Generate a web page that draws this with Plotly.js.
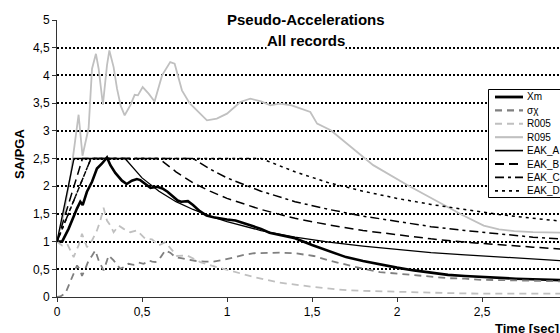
<!DOCTYPE html>
<html>
<head>
<meta charset="utf-8">
<script src="https://cdn.plot.ly/plotly-3.0.1.min.js"></script>
<style>
html, body { margin:0; padding:0; overflow:hidden; background:#fff; }
#chart { width:620px; height:333px; }
</style>
</head>
<body>
<div id="chart"></div>
<script>
// ---- data ----
const xm_x = [0, 0.03, 0.068, 0.098, 0.118, 0.137, 0.151, 0.176, 0.206, 0.235, 0.265, 0.294, 0.314, 0.343, 0.382, 0.41, 0.44, 0.47, 0.49, 0.52, 0.55, 0.59, 0.62, 0.65, 0.68, 0.71, 0.73, 0.77, 0.8, 0.84, 0.88, 0.92, 1.0, 1.05, 1.1, 1.14, 1.2, 1.25, 1.31, 1.4, 1.5, 1.6, 1.7, 1.8, 1.9, 2.0, 2.1, 2.2, 2.3, 2.4, 2.5, 2.6, 2.7, 2.8, 2.9, 3.0];
const xm_y = [1, 1.0, 1.23, 1.47, 1.60, 1.72, 1.66, 1.90, 2.08, 2.32, 2.41, 2.52, 2.38, 2.24, 2.1, 2.04, 2.1, 2.13, 2.11, 2.04, 1.97, 1.99, 1.96, 1.9, 1.82, 1.74, 1.72, 1.73, 1.66, 1.55, 1.47, 1.44, 1.40, 1.38, 1.33, 1.29, 1.23, 1.16, 1.12, 1.06, 0.94, 0.83, 0.72, 0.65, 0.585, 0.53, 0.48, 0.44, 0.40, 0.38, 0.36, 0.35, 0.33, 0.32, 0.31, 0.30];

const sx_x = [0, 0.02, 0.05, 0.08, 0.1, 0.118, 0.135, 0.147, 0.165, 0.186, 0.205, 0.225, 0.245, 0.274, 0.29, 0.304, 0.333, 0.372, 0.40, 0.42, 0.45, 0.48, 0.51, 0.54, 0.56, 0.58, 0.61, 0.637, 0.666, 0.696, 0.73, 0.78, 0.82, 0.87, 0.92, 0.98, 1.04, 1.1, 1.16, 1.235, 1.31, 1.4, 1.51, 1.6, 1.71, 1.8, 1.9, 2.0, 2.1, 2.2, 2.3, 2.4, 2.5, 2.7, 2.9, 3.0];
const sx_y = [0, 0.01, 0.07, 0.3, 0.45, 0.57, 0.5, 0.38, 0.5, 0.66, 0.74, 0.84, 0.66, 0.48, 0.62, 0.75, 0.66, 0.51, 0.55, 0.6, 0.58, 0.62, 0.6, 0.66, 0.64, 0.63, 0.72, 0.84, 0.8, 0.72, 0.7, 0.67, 0.65, 0.64, 0.64, 0.67, 0.72, 0.76, 0.79, 0.80, 0.80, 0.79, 0.74, 0.66, 0.57, 0.51, 0.45, 0.42, 0.39, 0.36, 0.34, 0.33, 0.31, 0.30, 0.29, 0.28];

const r005_x = [0, 0.03, 0.06, 0.08, 0.098, 0.115, 0.127, 0.147, 0.162, 0.176, 0.206, 0.235, 0.255, 0.274, 0.294, 0.314, 0.333, 0.363, 0.392, 0.431, 0.47, 0.5, 0.52, 0.559, 0.598, 0.637, 0.676, 0.706, 0.765, 0.843, 0.94, 1.04, 1.16, 1.31, 1.51, 1.71, 1.9, 2.1, 2.3, 2.5, 2.7, 3.0];
const r005_y = [1, 0.93, 0.96, 0.84, 0.72, 0.85, 0.93, 1.14, 1.0, 0.9, 1.02, 1.2, 1.38, 1.61, 1.38, 1.29, 1.17, 1.29, 1.23, 1.17, 1.2, 1.12, 1.05, 1.04, 0.93, 0.99, 0.84, 0.74, 0.75, 0.63, 0.54, 0.46, 0.36, 0.26, 0.18, 0.12, 0.10, 0.09, 0.07, 0.06, 0.06, 0.06];

const r095_x = [0, 0.04, 0.08, 0.105, 0.127, 0.15, 0.17, 0.186, 0.206, 0.229, 0.245, 0.27, 0.294, 0.308, 0.333, 0.353, 0.375, 0.398, 0.431, 0.457, 0.476, 0.504, 0.539, 0.574, 0.618, 0.666, 0.692, 0.735, 0.78, 0.824, 0.882, 0.94, 1.0, 1.078, 1.137, 1.2, 1.255, 1.31, 1.38, 1.49, 1.53, 1.61, 1.765, 1.86, 2.06, 2.25, 2.39, 2.51, 2.6, 2.69, 2.8, 3.0];
const r095_y = [1, 1.5, 2.2, 2.8, 3.29, 2.55, 2.86, 3.05, 4.12, 4.39, 4.12, 3.47, 4.18, 4.45, 4.15, 3.76, 3.45, 3.28, 3.46, 3.65, 3.64, 3.79, 3.67, 3.53, 4.0, 4.24, 4.21, 3.73, 3.5, 3.37, 3.19, 3.22, 3.31, 3.52, 3.58, 3.53, 3.46, 3.49, 3.46, 3.34, 3.13, 3.01, 2.62, 2.38, 2.02, 1.71, 1.47, 1.29, 1.22, 1.19, 1.17, 1.16];

const eakA_x = [0, 0.1, 0.4, 0.5, 0.6, 0.7, 0.8, 0.9, 1.0, 1.2, 1.4, 1.6, 1.8, 2.0, 2.2, 2.4, 2.6, 2.8, 3.0];
const eakA_y = [1, 2.5, 2.5, 2.15, 1.91, 1.72, 1.58, 1.46, 1.36, 1.20, 1.08, 0.99, 0.92, 0.86, 0.80, 0.76, 0.72, 0.68, 0.65];
const eakB_x = [0, 0.15, 0.6, 0.7, 0.8, 0.9, 1.0, 1.2, 1.4, 1.6, 1.8, 2.0, 2.2, 2.4, 2.6, 2.8, 3.0];
const eakB_y = [1, 2.5, 2.5, 2.26, 2.06, 1.91, 1.78, 1.58, 1.42, 1.30, 1.20, 1.12, 1.05, 0.99, 0.94, 0.90, 0.86];
const eakC_x = [0, 0.2, 0.8, 0.9, 1.0, 1.2, 1.4, 1.6, 1.8, 2.0, 2.2, 2.4, 2.6, 2.8, 3.0];
const eakC_y = [1, 2.5, 2.5, 2.31, 2.15, 1.91, 1.72, 1.58, 1.46, 1.36, 1.27, 1.20, 1.14, 1.08, 1.04];
const eakD_x = [0, 0.2, 1.2, 1.4, 1.6, 1.8, 2.0, 2.2, 2.4, 2.6, 2.8, 3.0];
const eakD_y = [1, 2.5, 2.5, 2.26, 2.06, 1.91, 1.78, 1.67, 1.58, 1.49, 1.42, 1.36];

const names = ['Xm', 'σχ', 'R005', 'R095', 'EAK_A', 'EAK_B', 'EAK_C', 'EAK_D'];
const xTicks = [0, 0.5, 1, 1.5, 2, 2.5, 3];
const yTicks = [0, 0.5, 1, 1.5, 2, 2.5, 3, 3.5, 4, 4.5, 5];
const titleLines = ['Pseudo-Accelerations', 'All records'];

// ---- styling ----
const F = '"Liberation Sans", Arial, sans-serif';
const styles = [
  { color: '#000000', width: 2.6, dash: 'solid' },
  { color: '#808080', width: 1.8, dash: '7px,5px' },
  { color: '#c0c0c0', width: 1.8, dash: '7px,5px' },
  { color: '#c0c0c0', width: 1.8, dash: 'solid' },
  { color: '#000000', width: 1.3, dash: 'solid' },
  { color: '#000000', width: 1.5, dash: '9px,5px' },
  { color: '#000000', width: 1.5, dash: '9px,4px,3px,4px' },
  { color: '#000000', width: 1.5, dash: '3px,4px' }
];
const series = [[xm_x, xm_y], [sx_x, sx_y], [r005_x, r005_y], [r095_x, r095_y],
                [eakA_x, eakA_y], [eakB_x, eakB_y], [eakC_x, eakC_y], [eakD_x, eakD_y]];
const traces = series.map((s, i) => ({
  type: 'scatter', mode: 'lines', x: s[0], y: s[1], name: names[i],
  line: styles[i], showlegend: false
}));

// plot area geometry (px) used to place the hand-made legend box
const W = 620, H = 333, ML = 57, MR = 53, MT = 20, MB = 36;
const PW = W - ML - MR, PH = H - MT - MB;
const px2x = p => (p - ML) / PW;
const px2y = p => (H - MB - p) / PH;

const shapes = [];
const annotations = [];
// legend frame
shapes.push({ type: 'rect', xref: 'paper', yref: 'paper',
  x0: px2x(488.5), x1: px2x(600), y0: px2y(197.5), y1: px2y(89.5),
  fillcolor: '#ffffff', line: { color: '#000000', width: 1 }, layer: 'above' });
names.forEach((n, i) => {
  const yy = 97 + i * 13.4;
  shapes.push({ type: 'line', xref: 'paper', yref: 'paper',
    x0: px2x(495), x1: px2x(523), y0: px2y(yy), y1: px2y(yy),
    line: { color: styles[i].color, width: Math.min(styles[i].width + 0.3, 2.8), dash: styles[i].dash },
    layer: 'above' });
  annotations.push({ xref: 'paper', yref: 'paper', x: px2x(524.5), y: px2y(yy),
    xanchor: 'left', yanchor: 'middle', text: n, showarrow: false,
    font: { family: F, size: 10, color: '#000' } });
});
// title (two lines, each with white backing like the original)
titleLines.forEach((t, i) => {
  annotations.push({ xref: 'paper', yref: 'paper', x: px2x(306), y: px2y(19.5 + i * 20.5),
    xanchor: 'center', yanchor: 'middle', text: '<b>' + t + '</b>', showarrow: false,
    bgcolor: '#ffffff', borderpad: 0,
    font: { family: F, size: 15, color: '#000' } });
});
annotations.push({ xref: 'paper', yref: 'paper', x: px2x(19), y: px2y(154),
  xanchor: 'center', yanchor: 'middle', text: '<b>SA/PGA</b>', textangle: -90, showarrow: false,
  font: { family: F, size: 13, color: '#000' } });
annotations.push({ xref: 'paper', yref: 'paper', x: px2x(493), y: px2y(328),
  xanchor: 'left', yanchor: 'middle', text: '<b>Time [sec]</b>', showarrow: false,
  font: { family: F, size: 13, color: '#000' } });

const layout = {
  width: W, height: H,
  margin: { l: ML, r: MR, t: MT, b: MB },
  paper_bgcolor: '#ffffff', plot_bgcolor: '#ffffff',
  separators: ', ',
  font: { family: F, color: '#000' },
  showlegend: false,
  xaxis: {
    range: [0, 3], tickvals: xTicks, ticks: 'outside', ticklen: 4, tickcolor: '#333',
    showgrid: false, zeroline: false, showline: true, linecolor: '#333', linewidth: 1,
    tickfont: { family: F, size: 12, color: '#000' }
  },
  yaxis: {
    range: [0, 5], tickvals: yTicks, ticks: 'outside', ticklen: 4, tickcolor: '#333',
    showgrid: true, gridcolor: '#000000', gridwidth: 2, griddash: '2px,2px',
    zeroline: false, showline: true, linecolor: '#333', linewidth: 1,
    tickfont: { family: F, size: 12, color: '#000' }
  },
  shapes: shapes,
  annotations: annotations
};

Plotly.newPlot('chart', traces, layout, { displayModeBar: false, staticPlot: true });
</script>
</body>
</html>
